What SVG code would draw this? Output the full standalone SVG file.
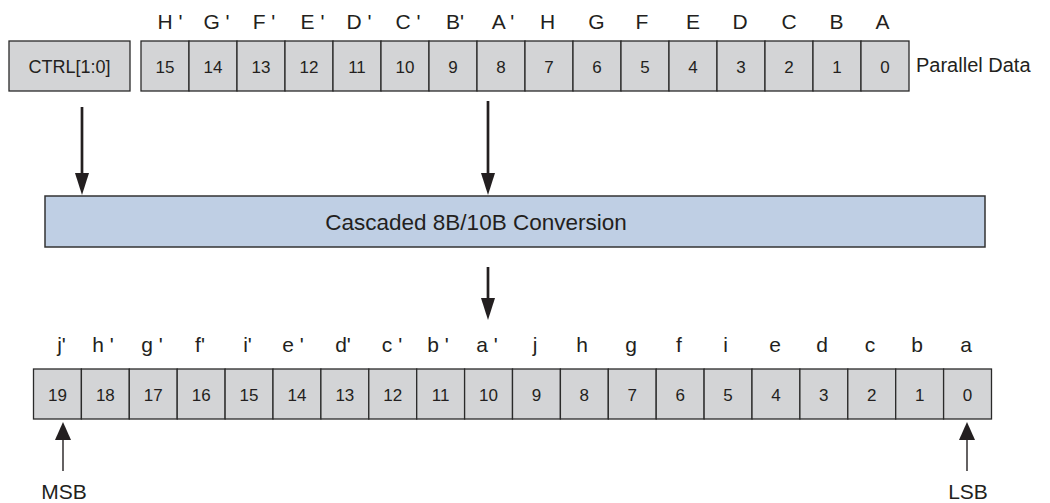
<svg xmlns="http://www.w3.org/2000/svg" width="1050" height="503" viewBox="0 0 1050 503">
<style>
text{font-family:"Liberation Sans",Arial,sans-serif;fill:#231f20}
.cell{fill:#d3d4d6;stroke:#2a2a2a;stroke-width:1.3}
.num{font-size:17px;text-anchor:middle}
.lbl{font-size:21px;text-anchor:middle}
.big{font-size:20px}
.conv{fill:#bfcfe4;stroke:#333;stroke-width:1.5}
.thick{stroke:#231f20;stroke-width:2.7;fill:none}
.thin{stroke:#231f20;stroke-width:1.4;fill:none}
</style>
<defs>
<marker id="ah" markerUnits="userSpaceOnUse" viewBox="0 0 22 14" markerWidth="22" markerHeight="14" refX="12" refY="7" orient="auto"><path d="M0,0 L22,7 L0,14 Z" fill="#231f20"/></marker>
<marker id="ahs" markerUnits="userSpaceOnUse" viewBox="0 0 18 16" markerWidth="18" markerHeight="16" refX="10" refY="8" orient="auto"><path d="M0,0 L18,8 L0,16 Z" fill="#231f20"/></marker>
</defs>
<rect width="1050" height="503" fill="#fff"/>

<g id="ctrl">
<rect class="cell" x="9" y="41" width="121" height="50"/>
<text x="69.5" y="72.5" class="num" style="font-size:18px">CTRL[1:0]</text>
</g>

<g id="parallel-data">
<rect class="cell" x="141" y="41" width="48" height="50"/>
<rect class="cell" x="189" y="41" width="48" height="50"/>
<rect class="cell" x="237" y="41" width="48" height="50"/>
<rect class="cell" x="285" y="41" width="48" height="50"/>
<rect class="cell" x="333" y="41" width="48" height="50"/>
<rect class="cell" x="381" y="41" width="48" height="50"/>
<rect class="cell" x="429" y="41" width="48" height="50"/>
<rect class="cell" x="477" y="41" width="48" height="50"/>
<rect class="cell" x="525" y="41" width="48" height="50"/>
<rect class="cell" x="573" y="41" width="48" height="50"/>
<rect class="cell" x="621" y="41" width="48" height="50"/>
<rect class="cell" x="669" y="41" width="48" height="50"/>
<rect class="cell" x="717" y="41" width="48" height="50"/>
<rect class="cell" x="765" y="41" width="48" height="50"/>
<rect class="cell" x="813" y="41" width="48" height="50"/>
<rect class="cell" x="861" y="41" width="48" height="50"/>
<text class="num" x="165" y="72.5">15</text>
<text class="num" x="213" y="72.5">14</text>
<text class="num" x="261" y="72.5">13</text>
<text class="num" x="309" y="72.5">12</text>
<text class="num" x="357" y="72.5">11</text>
<text class="num" x="405" y="72.5">10</text>
<text class="num" x="453" y="72.5">9</text>
<text class="num" x="501" y="72.5">8</text>
<text class="num" x="549" y="72.5">7</text>
<text class="num" x="597" y="72.5">6</text>
<text class="num" x="645" y="72.5">5</text>
<text class="num" x="693" y="72.5">4</text>
<text class="num" x="741" y="72.5">3</text>
<text class="num" x="789" y="72.5">2</text>
<text class="num" x="837" y="72.5">1</text>
<text class="num" x="885" y="72.5">0</text>
<text class="lbl" x="170" y="29">H '</text>
<text class="lbl" x="216.5" y="29">G '</text>
<text class="lbl" x="264" y="29">F '</text>
<text class="lbl" x="312.5" y="29">E '</text>
<text class="lbl" x="359" y="29">D '</text>
<text class="lbl" x="408" y="29">C '</text>
<text class="lbl" x="455" y="29">B'</text>
<text class="lbl" x="503" y="29">A '</text>
<text class="lbl" x="547.5" y="29">H</text>
<text class="lbl" x="596.5" y="29">G</text>
<text class="lbl" x="642" y="29">F</text>
<text class="lbl" x="693" y="29">E</text>
<text class="lbl" x="740" y="29">D</text>
<text class="lbl" x="789" y="29">C</text>
<text class="lbl" x="836.5" y="29">B</text>
<text class="lbl" x="882.5" y="29">A</text>
<text class="big" x="916" y="72">Parallel Data</text>
</g>

<g id="conversion">
<rect class="conv" x="45" y="196" width="940" height="51"/>
<text x="476" y="230" style="font-size:22.5px;text-anchor:middle">Cascaded 8B/10B Conversion</text>
</g>

<g id="serial-data">
<rect class="cell" x="33.5" y="369" width="47.9" height="50"/>
<rect class="cell" x="81.4" y="369" width="47.9" height="50"/>
<rect class="cell" x="129.3" y="369" width="47.9" height="50"/>
<rect class="cell" x="177.2" y="369" width="47.9" height="50"/>
<rect class="cell" x="225.1" y="369" width="47.9" height="50"/>
<rect class="cell" x="273" y="369" width="47.9" height="50"/>
<rect class="cell" x="320.9" y="369" width="47.9" height="50"/>
<rect class="cell" x="368.8" y="369" width="47.9" height="50"/>
<rect class="cell" x="416.7" y="369" width="47.9" height="50"/>
<rect class="cell" x="464.6" y="369" width="47.9" height="50"/>
<rect class="cell" x="512.5" y="369" width="47.9" height="50"/>
<rect class="cell" x="560.4" y="369" width="47.9" height="50"/>
<rect class="cell" x="608.3" y="369" width="47.9" height="50"/>
<rect class="cell" x="656.2" y="369" width="47.9" height="50"/>
<rect class="cell" x="704.1" y="369" width="47.9" height="50"/>
<rect class="cell" x="752" y="369" width="47.9" height="50"/>
<rect class="cell" x="799.9" y="369" width="47.9" height="50"/>
<rect class="cell" x="847.8" y="369" width="47.9" height="50"/>
<rect class="cell" x="895.7" y="369" width="47.9" height="50"/>
<rect class="cell" x="943.6" y="369" width="47.9" height="50"/>
<text class="num" x="57.45" y="400.5">19</text>
<text class="num" x="105.35" y="400.5">18</text>
<text class="num" x="153.25" y="400.5">17</text>
<text class="num" x="201.15" y="400.5">16</text>
<text class="num" x="249.05" y="400.5">15</text>
<text class="num" x="296.95" y="400.5">14</text>
<text class="num" x="344.85" y="400.5">13</text>
<text class="num" x="392.75" y="400.5">12</text>
<text class="num" x="440.65" y="400.5">11</text>
<text class="num" x="488.55" y="400.5">10</text>
<text class="num" x="536.45" y="400.5">9</text>
<text class="num" x="584.35" y="400.5">8</text>
<text class="num" x="632.25" y="400.5">7</text>
<text class="num" x="680.15" y="400.5">6</text>
<text class="num" x="728.05" y="400.5">5</text>
<text class="num" x="775.95" y="400.5">4</text>
<text class="num" x="823.85" y="400.5">3</text>
<text class="num" x="871.75" y="400.5">2</text>
<text class="num" x="919.65" y="400.5">1</text>
<text class="num" x="967.55" y="400.5">0</text>
<text class="lbl" x="61.5" y="352">j'</text>
<text class="lbl" x="103" y="352">h '</text>
<text class="lbl" x="152" y="352">g '</text>
<text class="lbl" x="200" y="352">f'</text>
<text class="lbl" x="247.5" y="352">i'</text>
<text class="lbl" x="293" y="352">e '</text>
<text class="lbl" x="343" y="352">d'</text>
<text class="lbl" x="392" y="352">c '</text>
<text class="lbl" x="438" y="352">b '</text>
<text class="lbl" x="487" y="352">a '</text>
<text class="lbl" x="535" y="352">j</text>
<text class="lbl" x="582" y="352">h</text>
<text class="lbl" x="631" y="352">g</text>
<text class="lbl" x="679" y="352">f</text>
<text class="lbl" x="725.5" y="352">i</text>
<text class="lbl" x="775" y="352">e</text>
<text class="lbl" x="822" y="352">d</text>
<text class="lbl" x="870" y="352">c</text>
<text class="lbl" x="917" y="352">b</text>
<text class="lbl" x="966" y="352">a</text>
</g>

<g id="msb">
<text class="lbl" x="64" y="499">MSB</text>
</g>
<g id="lsb">
<text class="lbl" x="968" y="499">LSB</text>
</g>

<g id="connectors">
<line class="thick" x1="82" y1="107" x2="82" y2="185" marker-end="url(#ah)"/>
<line class="thick" x1="488" y1="101" x2="488" y2="185" marker-end="url(#ah)"/>
<line class="thick" x1="488" y1="267" x2="488" y2="310" marker-end="url(#ah)"/>
<line class="thin" x1="63" y1="471" x2="63" y2="430" marker-end="url(#ahs)"/>
<line class="thin" x1="967" y1="471" x2="967" y2="430" marker-end="url(#ahs)"/>
</g>
</svg>
